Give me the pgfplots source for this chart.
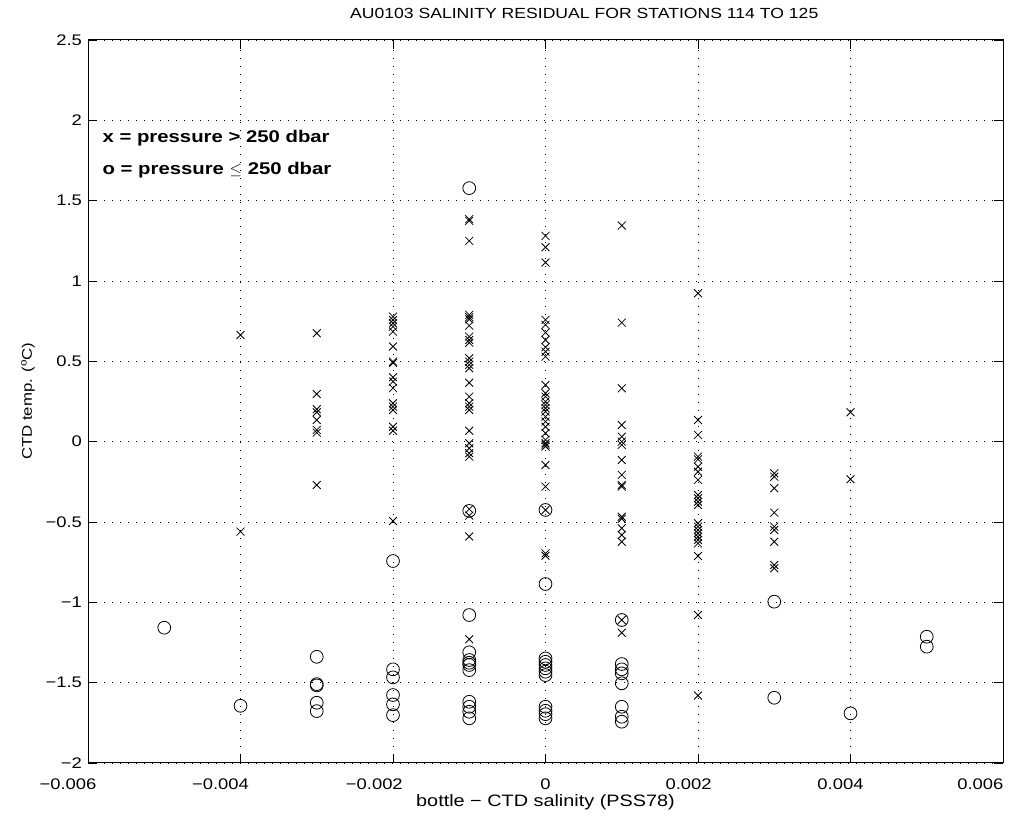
\documentclass[border=0pt]{standalone}
\usepackage{pgfplots}
\pgfplotsset{compat=1.18}
\usepackage{fontspec}
\setmainfont{Liberation Sans}[FakeStretch=1.2]
\newcommand{\sh}[2]{\makebox[0pt]{\hspace*{-#1}#2}}
\begin{document}
\begin{tikzpicture}
\begin{axis}[
  width=686.25pt, height=542.25pt, scale only axis,
  xmin=-0.006, xmax=0.006, ymin=-2, ymax=2.5,
  xtick={-0.006,-0.004,-0.002,0,0.002,0.004,0.006},
  xticklabels={\sh{30pt}{−0.006},\sh{30pt}{−0.004},\sh{28pt}{−0.002},0,\sh{14pt}{0.002},\sh{15pt}{0.004},\sh{34pt}{0.006}},
  ytick={-2,-1.5,-1,-0.5,0,0.5,1,1.5,2,2.5},
  yticklabels={−2,−1.5,−1,−0.5,0,0.5,1,1.5,2,2.5},
  scaled ticks=false,
  tick align=inside,
  major tick length=7pt,
  tick style={black, line width=0.6pt},
  grid=major,
  grid style={black, line width=0.6pt, dash pattern=on 0.75pt off 5.25pt},
  axis line style={line width=0.75pt},
  ticklabel style={font=\fontsize{11.5}{13}\selectfont},
  xticklabel style={yshift=-8pt},
  yticklabel style={xshift=-1pt},
  title={AU0103 SALINITY RESIDUAL FOR STATIONS 114 TO 125},
  title style={at={(axis description cs:0.5423,1.018)}, anchor=base, font=\fontsize{11}{13}\selectfont},
  xlabel={bottle − CTD salinity (PSS78)},
  xlabel style={at={(axis description cs:0.5,-0.0595)}, anchor=base, font=\fontsize{12.4}{14}\selectfont},
  ylabel={CTD temp. ($^{\mathrm{o}}$C)},
  ylabel style={at={(axis description cs:-0.0612,0.5)}, anchor=base, font=\fontsize{10.5}{12}\selectfont},
]
\addplot[only marks, mark=x, mark size=4.2pt, mark options={line width=0.6pt}] coordinates {
(-0.004,0.664) (-0.004,-0.56)
(-0.003,0.675) (-0.003,0.297) (-0.003,0.202) (-0.003,0.183) (-0.003,0.135) (-0.003,0.073) (-0.003,0.056) (-0.003,-0.27)
(-0.002,0.778) (-0.002,0.757) (-0.002,0.737) (-0.002,0.716) (-0.002,0.685) (-0.002,0.592) (-0.002,0.498) (-0.002,0.49) (-0.002,0.401) (-0.002,0.374) (-0.002,0.333) (-0.002,0.239) (-0.002,0.218) (-0.002,0.197) (-0.002,0.093) (-0.002,0.068) (-0.002,-0.494)
(-0.001,1.385) (-0.001,1.374) (-0.001,1.25) (-0.001,0.789) (-0.001,0.775) (-0.001,0.762) (-0.001,0.722) (-0.001,0.654) (-0.001,0.633) (-0.001,0.616) (-0.001,0.519) (-0.001,0.498) (-0.001,0.478) (-0.001,0.457) (-0.001,0.367) (-0.001,0.28) (-0.001,0.239) (-0.001,0.218) (-0.001,0.197) (-0.001,0.068) (-0.001,-0.01) (-0.001,-0.041) (-0.001,-0.072) (-0.001,-0.093) (-0.001,-0.42) (-0.001,-0.46) (-0.001,-0.59) (-0.001,-1.23)
(0,1.281) (0,1.21) (0,1.115) (0,0.758) (0,0.727) (0,0.679) (0,0.633) (0,0.588) (0,0.56) (0,0.529) (0,0.353) (0,0.301) (0,0.28) (0,0.249) (0,0.229) (0,0.208) (0,0.187) (0,0.156) (0,0.125) (0,0.093) (0,0.052) (0,0.011) (0,-0.01) (0,-0.02) (0,-0.031) (0,-0.145) (0,-0.28) (0,-0.425) (0,-0.695) (0,-0.71)
(0.001,1.345) (0.001,0.741) (0.001,0.332) (0.001,0.104) (0.001,0.031) (0.001,0) (0.001,-0.02) (0.001,-0.114) (0.001,-0.207) (0.001,-0.27) (0.001,-0.28) (0.001,-0.467) (0.001,-0.48) (0.001,-0.539) (0.001,-0.581) (0.001,-0.623) (0.001,-1.11) (0.001,-1.189)
(0.002,0.924) (0.002,0.135) (0.002,0.042) (0.002,-0.093) (0.002,-0.11) (0.002,-0.156) (0.002,-0.187) (0.002,-0.238) (0.002,-0.332) (0.002,-0.352) (0.002,-0.374) (0.002,-0.394) (0.002,-0.508) (0.002,-0.529) (0.002,-0.55) (0.002,-0.57) (0.002,-0.592) (0.002,-0.612) (0.002,-0.633) (0.002,-0.712) (0.002,-1.079) (0.002,-1.58)
(0.003,-0.197) (0.003,-0.218) (0.003,-0.29) (0.003,-0.442) (0.003,-0.529) (0.003,-0.55) (0.003,-0.623) (0.003,-0.768) (0.003,-0.788)
(0.004,0.183) (0.004,-0.234)
};
\addplot[only marks, mark=o, mark size=4.8pt, mark options={line width=0.6pt}] coordinates {
(-0.005,-1.158)
(-0.004,-1.644)
(-0.003,-1.339) (-0.003,-1.509) (-0.003,-1.517) (-0.003,-1.625) (-0.003,-1.677)
(-0.002,-0.743) (-0.002,-1.417) (-0.002,-1.467) (-0.002,-1.577) (-0.002,-1.635) (-0.002,-1.702)
(-0.001,1.578) (-0.001,-0.431) (-0.001,-1.079) (-0.001,-1.311) (-0.001,-1.359) (-0.001,-1.376) (-0.001,-1.39) (-0.001,-1.422) (-0.001,-1.619) (-0.001,-1.65) (-0.001,-1.681) (-0.001,-1.722)
(0,-0.425) (0,-0.886) (0,-1.349) (0,-1.37) (0,-1.39) (0,-1.411) (0,-1.432) (0,-1.453) (0,-1.65) (0,-1.675) (0,-1.696) (0,-1.722)
(0.001,-1.11) (0.001,-1.384) (0.001,-1.417) (0.001,-1.442) (0.001,-1.504) (0.001,-1.65) (0.001,-1.712) (0.001,-1.743)
(0.003,-0.996) (0.003,-1.594)
(0.004,-1.691)
(0.005,-1.214) (0.005,-1.276)
};
\node[anchor=west, font=\bfseries\fontsize{12.7}{14}\selectfont] at (axis cs:-0.00587,1.89) {x = pressure > 250 dbar};
\node[anchor=west, font=\bfseries\fontsize{12.7}{14}\selectfont] at (axis cs:-0.00587,1.69) {o = pressure $\leq$ 250 dbar};
\end{axis}
\pgfresetboundingbox
\path ([xshift=-66pt,yshift=-46.5pt]current axis.south west) rectangle ([xshift=11.25pt,yshift=30pt]current axis.north east);
\end{tikzpicture}
\end{document}
